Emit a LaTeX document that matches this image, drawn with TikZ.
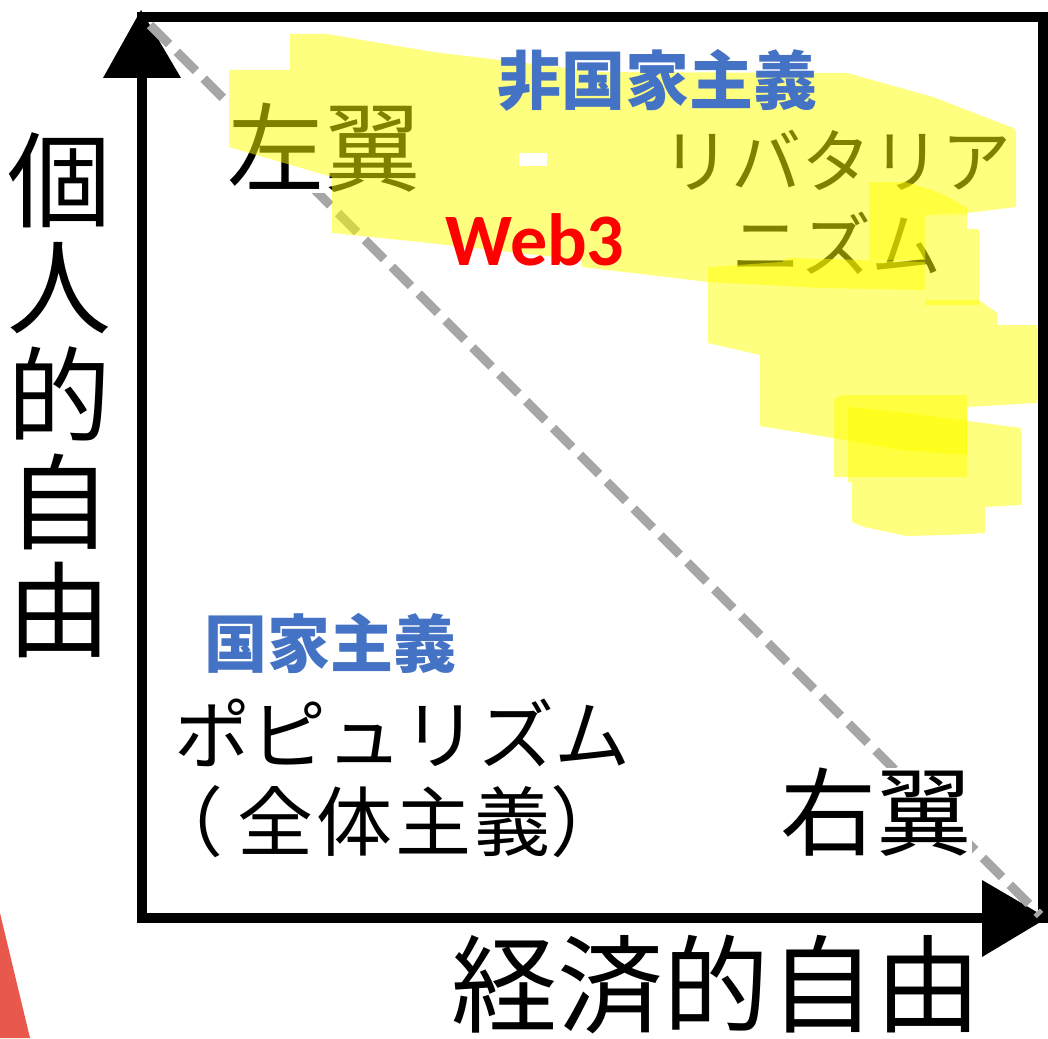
\documentclass[tikz,border=0pt]{standalone}
\usepackage{fontspec}
\newfontfamily\jpfont{Noto Sans CJK JP}
\newfontfamily\webfont{Carlito}
\definecolor{labelblue}{RGB}{68,114,196}
\definecolor{dashgray}{RGB}{166,166,166}
\definecolor{wedgered}{RGB}{232,88,76}
\definecolor{hilite}{RGB}{255,255,0}
\tikzset{
  jp/.style={inner sep=0pt, font=\jpfont},
  hl/.style={fill=hilite, fill opacity=0.5},
  axislabel/.style={jp, font=\jpfont\fontsize{104}{107.5}\selectfont, align=center},
  wing/.style={jp, fill=white, font=\jpfont\fontsize{97}{100}\selectfont},
  kata/.style={jp, font=\jpfont\fontsize{70}{84}\selectfont},
  bluelabel/.style={jp, text=labelblue, font=\jpfont\bfseries\fontsize{63}{70}\selectfont},
}
\begin{document}
\begin{tikzpicture}[x=1pt,y=-1pt]
\useasboundingbox (0,0) rectangle (1048,1038);
\fill[white] (0,0) rectangle (1048,1038);
\fill[wedgered] (0,913) -- (30,1038) -- (0,1038) -- cycle;
% frame and axis heads
\draw[line width=10pt] (142,17) rectangle (1043,918);
\fill (141,10) -- (181,78) -- (103,78) -- cycle;
\fill (1047,918) -- (982,880) -- (982,957) -- cycle;
% diagonal
\draw[dashgray, line width=9pt, dash pattern=on 27pt off 11pt] (150,25) -- (1040,915);
% black labels
\node[axislabel] (yaxis) at (60,395) {個\\人\\的\\自\\由};
\node[jp, font=\jpfont\fontsize{106}{110}\selectfont] (xaxis) at (716,985) {経済的自由};
\node[wing] (leftwing) at (324,148) {左翼};
\node[wing, font=\jpfont\fontsize{96}{100}\selectfont] (rightwing) at (876,812) {右翼};
\node[kata, align=center] (lib) at (836,202) {リバタリア\\ニズム};
\node[jp, font=\jpfont\fontsize{76}{87}\selectfont, align=left, anchor=west] (pop) at (174,778.5) {ポピュリズム\\\hspace*{-27pt}（\hspace{14pt}全\hspace{3pt}体\hspace{3pt}主\hspace{3pt}義）};
% highlighter strokes
\fill[hl] (229,70) -- (290,70) -- (290,34) -- (327,34) -- (433,52) -- (500,60) -- (600,72) -- (847,73) -- (933,97) -- (1008,126) .. controls (1016,129) .. (1016,137) -- (1016,207) -- (967,213) -- (925,215) -- (925,290) -- (820,288) -- (708,282) -- (650,275) -- (582,267) -- (582,260) -- (420,242) -- (332,233) -- (332,177) -- (229,147) -- cycle;
\fill[hl] (869,182) -- (905,182) .. controls (940,192) .. (967,208) -- (967,215) -- (925,216) -- (925,260) -- (869,260) -- cycle;
\fill[hl] (925,216) -- (967,214) -- (967,229) -- (979,229) -- (979,305) -- (925,305) -- cycle;
\fill[hl] (708,267) -- (782,262) .. controls (786,258) .. (795,258) -- (925,262) -- (925,300) -- (979,300) -- (997,313) -- (997,325) -- (1037,325) -- (1037,403) -- (967,407) -- (967,455) -- (900,450) -- (833,438) -- (760,426) -- (760,355) -- (708,343) -- cycle;
\fill[hl] (834,405) .. controls (834,397) .. (845,395) -- (967,395) -- (967,477) -- (834,477) -- cycle;
\fill[hl] (848,407) -- (900,412) -- (1021,428) -- (1021,505) -- (985,507) -- (985,533) -- (947,535) -- (907,536) -- (864,527) -- (852,522) -- (852,482) -- (848,482) -- cycle;
\fill[white] (519,153) rectangle (547,166);
% coloured labels
\node[bluelabel, font=\jpfont\bfseries\fontsize{64}{70}\selectfont] (nonstate) at (657,80) {非国家主義};
\node[bluelabel] (state) at (330,643) {国家主義};
\node[inner sep=0pt, text=red, font=\webfont\bfseries\fontsize{74}{80}\selectfont] (web3) at (535,240) {Web3};
\end{tikzpicture}
\end{document}
